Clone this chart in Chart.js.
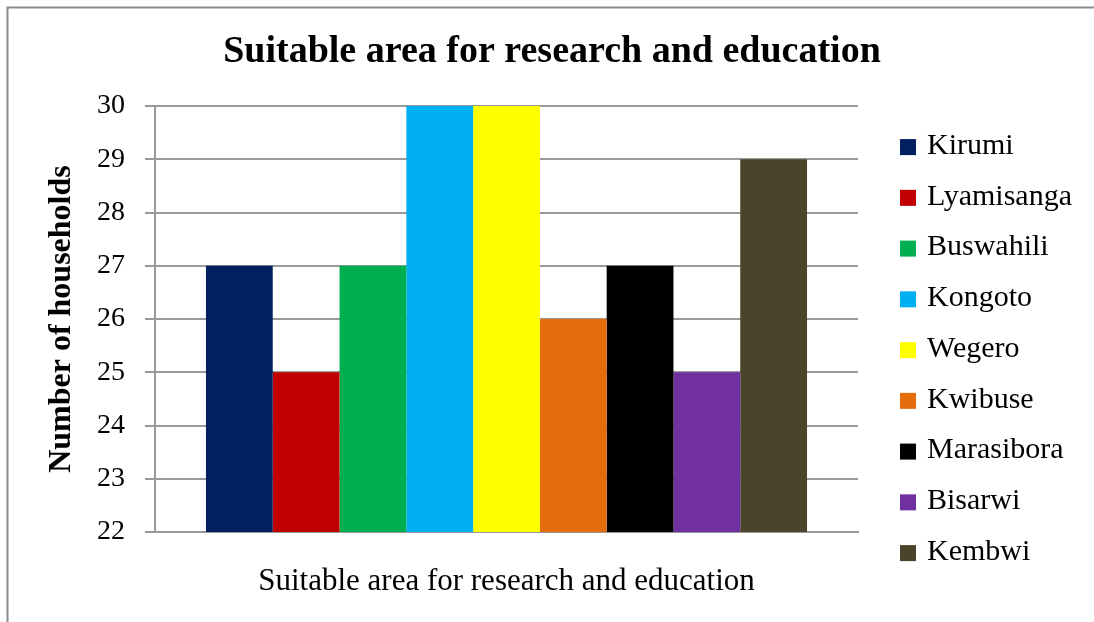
<!DOCTYPE html>
<html>
<head>
<meta charset="utf-8">
<script src="https://cdn.jsdelivr.net/npm/chart.js@4.4.1/dist/chart.umd.min.js"></script>
<style>
  html, body { margin: 0; padding: 0; background: #fff; }
  canvas { display: block; }
</style>
</head>
<body>
<canvas id="chart" width="1094" height="622"></canvas>
<script>
// Data
const categories = ['Suitable area for research and education'];
const villages = ['Kirumi', 'Lyamisanga', 'Buswahili', 'Kongoto', 'Wegero', 'Kwibuse', 'Marasibora', 'Bisarwi', 'Kembwi'];
const households = [27, 25, 27, 30, 30, 26, 27, 25, 29];
const villageColors = ['#002060', '#C00000', '#00B050', '#00B0F0', '#FFFF00', '#E46C0A', '#000000', '#7030A0', '#4A452A'];
const yMin = 22;
const yMax = 30;
const yStep = 1;

const SERIF = "'Liberation Serif', 'Times New Roman', serif";
const GRID = '#9a9a9a';

Chart.defaults.color = '#000';
Chart.defaults.font.family = SERIF;

// White background and the outer frame (top and left edges)
const framePlugin = {
  id: 'frame',
  beforeDraw(chart) {
    const ctx = chart.ctx;
    ctx.save();
    ctx.fillStyle = '#fff';
    ctx.fillRect(0, 0, chart.width, chart.height);
    ctx.strokeStyle = '#8c8c8c';
    ctx.lineWidth = 2;
    ctx.beginPath();
    ctx.moveTo(7.5, chart.height);
    ctx.lineTo(7.5, 7.5);
    ctx.lineTo(chart.width, 7.5);
    ctx.stroke();
    ctx.restore();
  }
};

// Legend to the right of the plot, one row per village
const sideLegend = {
  id: 'sideLegend',
  afterDraw(chart) {
    const ctx = chart.ctx;
    const area = chart.chartArea;
    const boxX = area.right + 42;
    const firstY = area.top + 41;
    const step = 50.75;
    const box = 16;
    ctx.save();
    ctx.font = '30px ' + SERIF;
    ctx.textBaseline = 'middle';
    ctx.textAlign = 'left';
    chart.data.datasets.forEach((ds, i) => {
      const cy = firstY + i * step;
      ctx.fillStyle = ds.backgroundColor;
      ctx.fillRect(boxX, cy - box / 2, box, box);
      ctx.fillStyle = '#000';
      ctx.fillText(ds.label, boxX + box + 11, cy - 1);
    });
    ctx.restore();
  }
};

const datasets = villages.map((name, i) => ({
  label: name,
  data: [households[i]],
  backgroundColor: villageColors[i],
  borderWidth: 0,
  categoryPercentage: 0.855,
  barPercentage: 1.0
}));

new Chart(document.getElementById('chart'), {
  type: 'bar',
  data: { labels: categories, datasets },
  options: {
    responsive: false,
    animation: false,
    devicePixelRatio: 1,
    layout: { padding: { left: 10, right: 0, top: 0, bottom: 0 } },
    plugins: {
      legend: { display: false },
      tooltip: { enabled: false },
      title: {
        display: true,
        text: 'Suitable area for research and education',
        color: '#000',
        font: { family: SERIF, size: 38, weight: 'bold' },
        padding: { top: 29.5, bottom: 31 }
      }
    },
    scales: {
      x: {
        grid: { display: false },
        border: { display: true, color: GRID, width: 2 },
        ticks: {
          color: '#000',
          font: { family: SERIF, size: 31 },
          padding: 23,
          maxRotation: 0
        },
        afterFit(scale) { scale.height = 90; }
      },
      y: {
        min: yMin,
        max: yMax,
        grid: { color: GRID, lineWidth: 2, tickLength: 10, drawTicks: true },
        border: { display: true, color: GRID, width: 2 },
        ticks: {
          stepSize: yStep,
          color: '#000',
          font: { family: SERIF, size: 28 },
          padding: 20
        },
        title: {
          display: true,
          text: 'Number of households',
          color: '#000',
          font: { family: SERIF, size: 32, weight: 'bold' },
          padding: { top: 33, bottom: 0 }
        },
        afterFit(scale) { scale.width = 145; }
      },
      legendSpace: {
        type: 'linear',
        position: 'right',
        display: true,
        grid: { display: false },
        border: { display: false },
        ticks: { display: false },
        afterFit(scale) { scale.width = 236; }
      }
    }
  },
  plugins: [framePlugin, sideLegend]
});
</script>
</body>
</html>
